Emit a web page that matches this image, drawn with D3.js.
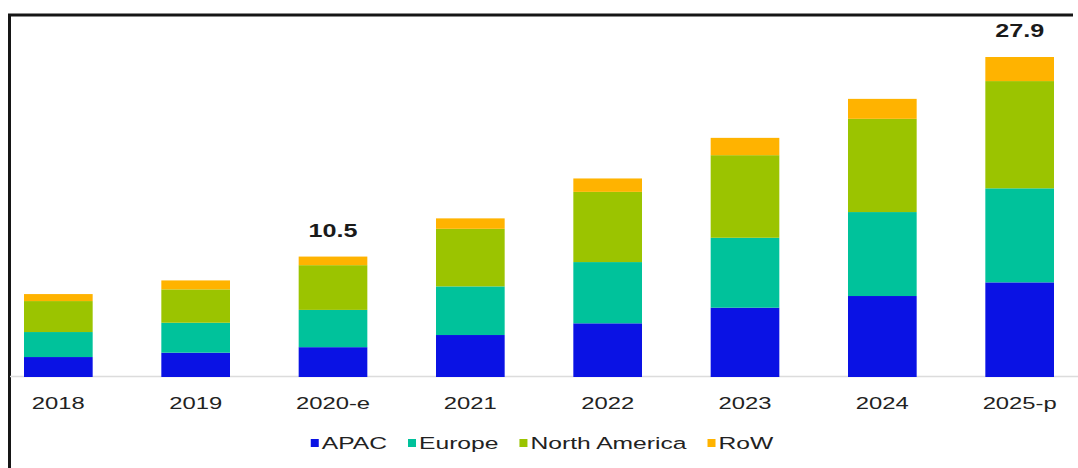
<!DOCTYPE html>
<html>
<head>
<meta charset="utf-8">
<script src="https://cdn.jsdelivr.net/npm/d3@7"></script>
<style>
  html, body { margin: 0; padding: 0; background: #fff; }
  svg { display: block; }
</style>
</head>
<body>
<svg id="chart" width="1078" height="468"></svg>
<script>
// Market size by region, stacked per year
const categories = ["2018", "2019", "2020-e", "2021", "2022", "2023", "2024", "2025-p"];
const apac         = [1.74, 2.12, 2.60, 3.66, 4.68, 6.04, 7.06, 8.25];
const europe       = [2.18, 2.61, 3.25, 4.24, 5.34, 6.10, 7.32, 8.20];
const northAmerica = [2.70, 2.91, 3.90, 5.02, 6.12, 7.20, 8.13, 9.35];
const rowRegion    = [0.61, 0.78, 0.75, 0.91, 1.17, 1.51, 1.74, 2.10];
const seriesNames  = ["APAC", "Europe", "North America", "RoW"];
const seriesColors = ["#0a12e4", "#00c29b", "#9bc400", "#ffb300"];
// totals printed above selected bars
const labelledYears = ["2020-e", "2025-p"];
const labelledTotals = ["10.5", "27.9"];

const svg = d3.select("#chart");
const W = 1078, H = 468;
const TEXT_STRETCH = 1.4;    // wide lettering
const LEGEND_STRETCH = 1.45;

// frame (top and left edges visible)
svg.append("path")
  .attr("d", "M9.5,480 V15 H1073")
  .attr("fill", "none")
  .attr("stroke", "#161616")
  .attr("stroke-width", 3);

const table = categories.map((c, i) => ({
  cat: c,
  "APAC": apac[i],
  "Europe": europe[i],
  "North America": northAmerica[i],
  "RoW": rowRegion[i]
}));

const x = d3.scaleBand()
  .domain(categories)
  .range([24, 1054])
  .paddingInner(0.5)
  .paddingOuter(0);

const y = d3.scaleLinear()
  .domain([0, 27.9])
  .range([377, 57]);

const color = d3.scaleOrdinal().domain(seriesNames).range(seriesColors);

const stacked = d3.stack().keys(seriesNames)(table);

// baseline
svg.append("line")
  .attr("x1", 10).attr("x2", W)
  .attr("y1", y(0) - 0.5).attr("y2", y(0) - 0.5)
  .attr("stroke", "#dcdcdc")
  .attr("stroke-width", 1.5);

svg.append("g")
  .selectAll("g")
  .data(stacked)
  .join("g")
  .attr("fill", d => color(d.key))
  .selectAll("rect")
  .data(d => d)
  .join("rect")
  .attr("x", d => x(d.data.cat))
  .attr("width", x.bandwidth())
  .attr("y", d => y(d[1]))
  .attr("height", d => y(d[0]) - y(d[1]));

// category labels
const xAxis = d3.axisBottom(x).tickSize(0).tickPadding(0);
const axisG = svg.append("g")
  .attr("transform", `translate(0,${y(0)})`)
  .call(xAxis);
axisG.select(".domain").remove();
axisG.selectAll(".tick text")
  .attr("dy", null)
  .attr("y", 0)
  .attr("transform", `translate(0,32) scale(${TEXT_STRETCH},1)`)
  .attr("font-family", "'Liberation Sans', Arial, sans-serif")
  .attr("font-size", 17)
  .attr("fill", "#222")
  .attr("text-anchor", "middle");

// totals above bars
labelledYears.forEach((yr, i) => {
  const total = table.find(d => d.cat === yr);
  const sum = seriesNames.reduce((s, k) => s + total[k], 0);
  svg.append("text")
    .attr("transform", `translate(${x(yr) + x.bandwidth() / 2},${y(sum) - 20}) scale(${TEXT_STRETCH},1)`)
    .attr("text-anchor", "middle")
    .attr("font-family", "'Liberation Sans', Arial, sans-serif")
    .attr("font-size", 18)
    .attr("font-weight", "bold")
    .attr("fill", "#1a1a1a")
    .text(labelledTotals[i]);
});

// legend
const legend = svg.append("g");
const items = legend.selectAll("g")
  .data(seriesNames)
  .join("g");
items.append("rect")
  .attr("width", 8).attr("height", 8)
  .attr("y", -10)
  .attr("fill", d => color(d));
items.append("text")
  .attr("transform", `translate(11,0) scale(${LEGEND_STRETCH},1)`)
  .attr("font-family", "'Liberation Sans', Arial, sans-serif")
  .attr("font-size", 17)
  .attr("fill", "#222")
  .text(d => d);

let cursor = 0;
items.each(function () {
  const g = d3.select(this);
  const w = 11 + g.select("text").node().getComputedTextLength() * LEGEND_STRETCH;
  g.attr("transform", `translate(${cursor},0)`);
  cursor += w + 21;
});
const legendWidth = cursor - 21;
legend.attr("transform", `translate(${542 - legendWidth / 2},449)`);
</script>
</body>
</html>
